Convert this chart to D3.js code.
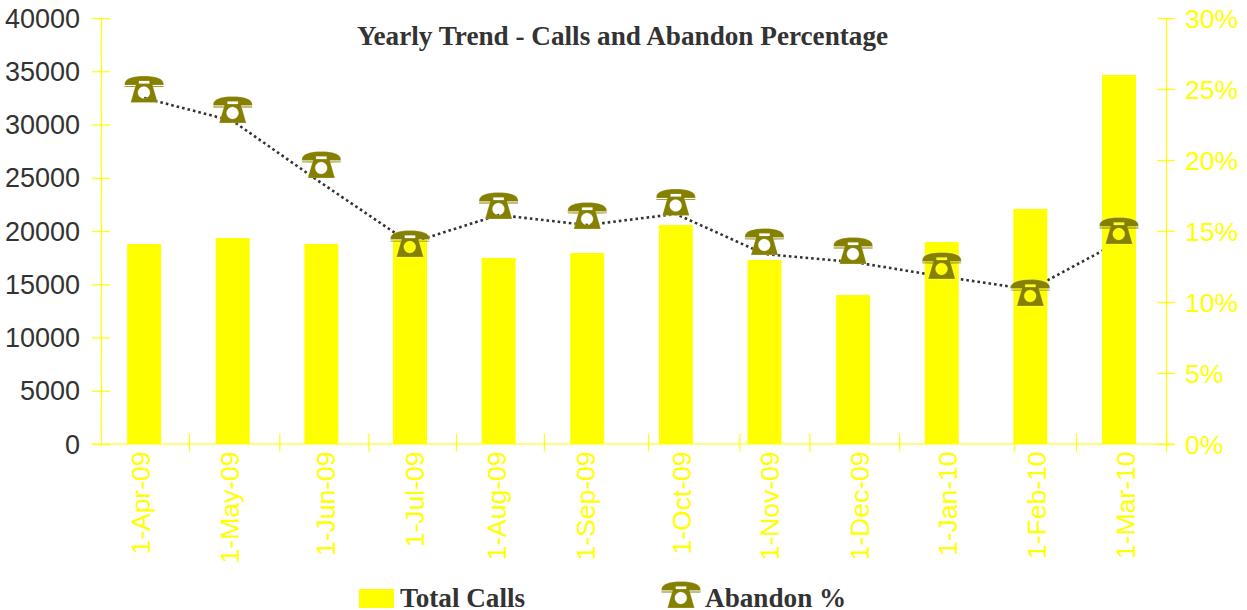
<!DOCTYPE html>
<html>
<head>
<meta charset="utf-8">
<script src="https://cdn.jsdelivr.net/npm/d3@7"></script>
<style>
  html, body { margin: 0; padding: 0; background: #fff; overflow: hidden; }
  svg { display: block; }
</style>
</head>
<body>
<div id="chart"></div>
<script>
// values
const months = ["1-Apr-09", "1-May-09", "1-Jun-09", "1-Jul-09", "1-Aug-09", "1-Sep-09",
  "1-Oct-09", "1-Nov-09", "1-Dec-09", "1-Jan-10", "1-Feb-10", "1-Mar-10"];
const totalCalls = [18780, 19340, 18780, 19150, 17470, 17930, 20560, 17280, 13990, 18970, 22070, 34650];
const abandonPct = [24.37, 22.75, 18.38, 14.15, 16.13, 15.42, 16.2, 13.38, 12.82, 11.8, 10.88, 14.23];
// the phone icons don't sit exactly on the line in the picture, so they get their own values
const abandonIcon = [24.96, 23.52, 19.65, 14.08, 16.76, 16.06, 17.0, 14.23, 13.59, 12.54, 10.63, 15.0];
const callTicks = [0, 5000, 10000, 15000, 20000, 25000, 30000, 35000, 40000];
const pctTicks = [0, 5, 10, 15, 20, 25, 30];

const width = 1247, height = 610;
const margin = { top: 18, right: 81, bottom: 166, left: 101 };
const plotLeft = margin.left, plotRight = width - margin.right;
const plotTop = margin.top, plotBottom = height - margin.bottom;
const yellow = "#ffff00", dark = "#333333", olive = "#858000";
const sans = "'Liberation Sans', Arial, sans-serif";
const serif = "'Liberation Serif', 'Times New Roman', serif";

// the reference's month ticks and labels are unevenly placed, these are px from each bar's centre
const monthTickShift = [45.4, 47.1, 47.6, 46.5, 45.8, 61.3, 64, 45.4, 46.6, 73, 46.1, 47.7];
const monthLabelShift = [5.9, 5.9, 13.8, 13.7, 6.9, 8.1, 14.7, 14.7, 15.9, 15.1, 15.1, 16.3];

const svg = d3.select("#chart").append("svg")
  .attr("width", width)
  .attr("height", height);

// bars run a little left of the axis box in the reference
const x = d3.scaleBand().domain(months).range([plotLeft - 1.2, plotRight - 2.7]).paddingInner(0.617).paddingOuter(0.3085);
const yCalls = d3.scaleLinear().domain([0, 40000]).range([plotBottom, plotTop]);
const yPct = d3.scaleLinear().domain([0, 30]).range([plotBottom, plotTop]);
const center = d => x(d) + x.bandwidth() / 2;

// phone icon, 39 x 27 box, origin at its middle
const phone = svg.append("defs").append("g").attr("id", "phone");
phone.append("path")
  .attr("transform", "translate(-19.5,-13.5)")
  .attr("fill", olive)
  .attr("fill-rule", "evenodd")
  .attr("stroke", "#fff")
  .attr("stroke-opacity", 0.4)
  .attr("stroke-width", 0.6)
  .attr("d", "M0,8 C0,2.5 8,0 19.5,0 C31,0 39,2.5 39,8 L39,9 L28,9 L33,26.5 L6,26.5 L11,9 L0,9 Z "
    + "M14.3,7.5 L24.7,7.5 L24.7,5 L14.3,5 Z "
    + "M13.3,16.5 a6,6 0 1,0 12,0 a6,6 0 1,0 -12,0 Z");
phone.append("path")
  .attr("transform", "translate(-19.5,-13.5)")
  .attr("fill", olive)
  .attr("d", "M0,10.1 L10.8,10.1 L10.5,11 L0,10.9 Z M28.2,10.1 L39,10.1 L39,10.9 L28.5,11 Z");

// line goes under the bars, it disappears behind them in the reference
const line = d3.line().x(d => center(d.month)).y(d => yPct(d.value));
svg.append("path")
  .datum(months.map((month, i) => ({ month, value: abandonPct[i] })))
  .attr("fill", "none")
  .attr("stroke", dark)
  .attr("stroke-width", 2.6)
  .attr("stroke-dasharray", "2.6,3")
  .attr("d", line);

// Axes. The ticks cross the axis line in the reference
function styleAxis(g) {
  g.selectAll(".domain").attr("stroke", yellow).attr("stroke-width", 1.2);
  g.selectAll(".tick line").attr("stroke", yellow).attr("stroke-width", 1.2);
}

// month axis also sits under the bars, the tick near Feb is cut by its bar
const bottomAxis = svg.append("g")
  .attr("transform", `translate(0,${plotBottom - 0.5})`)
  .call(d3.axisBottom(x).tickSizeOuter(0))
  .call(styleAxis);
bottomAxis.select(".domain").attr("d", `M${plotLeft - 9},0.5H${plotRight + 9}`);
bottomAxis.selectAll(".tick").attr("transform", d => `translate(${center(d)},0)`);
bottomAxis.selectAll(".tick line")
  .attr("x1", (d, i) => monthTickShift[i])
  .attr("x2", (d, i) => monthTickShift[i])
  .attr("y1", -10).attr("y2", 8);
bottomAxis.selectAll(".tick text")
  .attr("transform", "rotate(-90)")
  .attr("x", -8)
  .attr("y", (d, i) => monthLabelShift[i] - 9.5)
  .attr("dy", "0.36em")
  .style("text-anchor", "end")
  .style("font-family", sans)
  .style("font-size", "26.5px")
  .attr("fill", yellow);

svg.selectAll(".bar")
  .data(months)
  .enter()
  .append("rect")
  .attr("class", "bar")
  .attr("x", d => x(d))
  .attr("y", (d, i) => yCalls(totalCalls[i]))
  .attr("width", x.bandwidth())
  .attr("height", (d, i) => plotBottom - yCalls(totalCalls[i]))
  .attr("fill", yellow);

const leftAxis = svg.append("g")
  .attr("transform", `translate(${plotLeft},0)`)
  .call(d3.axisLeft(yCalls).tickValues(callTicks).tickFormat(d => d).tickSizeOuter(0))
  .call(styleAxis);
leftAxis.selectAll(".tick line").attr("x1", -9).attr("x2", 9);
leftAxis.selectAll(".tick text")
  .attr("x", -21)
  .attr("dy", "0.34em")
  .style("font-family", sans)
  .style("font-size", "27px")
  .attr("fill", dark);

const rightAxis = svg.append("g")
  .attr("transform", `translate(${plotRight},0)`)
  .call(d3.axisRight(yPct).tickValues(pctTicks).tickFormat(d => d + "%").tickSizeOuter(0))
  .call(styleAxis);
rightAxis.selectAll(".tick line").attr("x1", -9).attr("x2", 9);
rightAxis.selectAll(".tick text")
  .attr("x", 19)
  .attr("dy", "0.34em")
  .style("font-family", sans)
  .style("font-size", "26.5px")
  .attr("fill", yellow);

svg.selectAll(".marker")
  .data(months)
  .enter()
  .append("use")
  .attr("class", "marker")
  .attr("href", "#phone")
  .attr("x", d => center(d))
  .attr("y", (d, i) => yPct(abandonIcon[i]));

svg.append("text")
  .attr("x", 622.5)
  .attr("y", 45)
  .attr("text-anchor", "middle")
  .style("font-family", serif)
  .style("font-weight", "bold")
  .style("font-size", "27.2px")
  .attr("fill", dark)
  .text("Yearly Trend - Calls and Abandon Percentage");

// Legend
svg.append("rect")
  .attr("x", 359).attr("y", 589)
  .attr("width", 35).attr("height", 19)
  .attr("fill", yellow);
svg.append("text")
  .attr("x", 400).attr("y", 607)
  .style("font-family", serif)
  .style("font-weight", "bold")
  .style("font-size", "27.2px")
  .attr("fill", dark)
  .text("Total Calls");
svg.append("use")
  .attr("href", "#phone")
  .attr("x", 681)
  .attr("y", 595);
svg.append("text")
  .attr("x", 705).attr("y", 607)
  .style("font-family", serif)
  .style("font-weight", "bold")
  .style("font-size", "27.2px")
  .attr("fill", dark)
  .text("Abandon %");
</script>
</body>
</html>
